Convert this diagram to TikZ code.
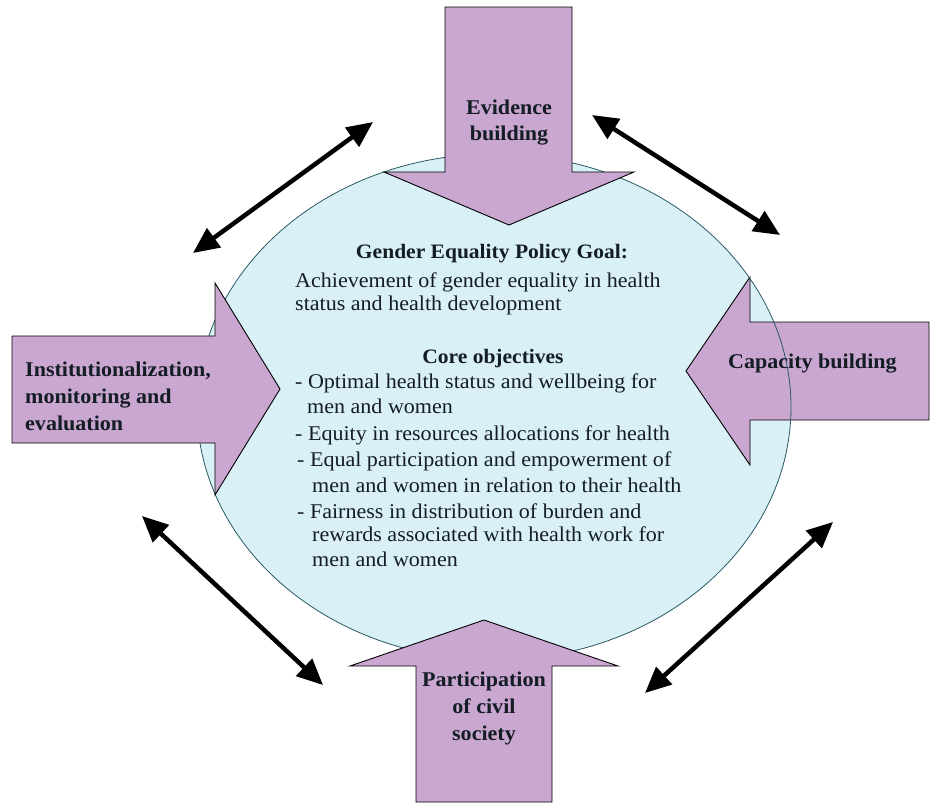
\documentclass[tikz,border=0pt]{standalone}
\usepackage{fontspec}
\setmainfont{Liberation Serif}
\newfontfamily\dfont[FakeStretch=1.05]{Liberation Serif}
\usetikzlibrary{arrows.meta}
\definecolor{purp}{RGB}{201,167,208}
\definecolor{lblue}{RGB}{218,240,247}
\definecolor{eline}{RGB}{40,90,100}
\definecolor{txt}{RGB}{20,28,36}
\begin{document}
\begin{tikzpicture}[x=1pt,y=-1pt,
  blockarrow/.style={fill=purp,draw=black,line width=0.9pt,line join=miter},
  bodytext/.style={inner sep=0pt,anchor=base west,text=txt,font=\dfont\fontsize{21}{24}\selectfont},
  headtext/.style={inner sep=0pt,anchor=base,text=txt,font=\dfont\bfseries\fontsize{20.5}{24}\selectfont},
  labeltext/.style={inner sep=0pt,text=txt,font=\dfont\bfseries\fontsize{21}{24}\selectfont},
  dblarrow/.style={line width=4.5pt,{Triangle[length=26pt,width=23pt]}-{Triangle[length=26pt,width=23pt]}}
]
\useasboundingbox (0,0) rectangle (932,804);
\fill[white] (0,0) rectangle (932,804);

% ellipse fill
\fill[lblue] (494,407) ellipse [x radius=297pt, y radius=253pt];
% right block arrow (under ellipse outline)
\draw[blockarrow] (929,322) -- (750,322) -- (750,277) -- (686,371) -- (750,465) -- (750,420) -- (929,420) -- cycle;
% ellipse outline
\draw[eline,line width=0.8pt] (494,407) ellipse [x radius=297pt, y radius=253pt];

% top block arrow
\draw[blockarrow] (445,7) -- (572,7) -- (572,172) -- (634,172) -- (509,225) -- (384,172) -- (445,172) -- cycle;
% left block arrow
\draw[blockarrow] (12,336) -- (215,336) -- (215,283) -- (280,389) -- (215,495) -- (215,443) -- (12,443) -- cycle;
% bottom block arrow
\draw[blockarrow] (416,802) -- (416,666) -- (350,666) -- (484,620) -- (618,666) -- (552,666) -- (552,802) -- cycle;

% arrow labels
\node[labeltext,anchor=base] (ev1) at (509,114) {Evidence};
\node[labeltext,anchor=base] (ev2) at (509,140) {building};
\node[labeltext,anchor=base west] (in1) at (25,376) {Institutionalization,};
\node[labeltext,anchor=base west] (in2) at (25,403) {monitoring and};
\node[labeltext,anchor=base west] (in3) at (25,430) {evaluation};
\node[labeltext,anchor=base west] (cap) at (728,368) {Capacity building};
\node[labeltext,anchor=base] (pa1) at (484,686) {Participation};
\node[labeltext,anchor=base] (pa2) at (484,713) {of civil};
\node[labeltext,anchor=base] (pa3) at (484,740) {society};

% ellipse text
\node[headtext] (h1) at (492,258) {Gender Equality Policy Goal:};
\node[bodytext] (l1) at (295,287) {Achievement of gender equality in health};
\node[bodytext] (l2) at (295,310) {status and health development};
\node[headtext] (h2) at (493,363) {Core objectives};
\node[bodytext] (o1) at (295,388) {- Optimal health status and wellbeing for};
\node[bodytext] (o2) at (307,413) {men and women};
\node[bodytext] (o3) at (295,440) {- Equity in resources allocations for health};
\node[bodytext] (o4) at (297,466) {- Equal participation and empowerment of};
\node[bodytext] (o5) at (312,492) {men and women in relation to their health};
\node[bodytext] (o6) at (297,518) {- Fairness in distribution of burden and};
\node[bodytext] (o7) at (312,541) {rewards associated with health work for};
\node[bodytext] (o8) at (312,566) {men and women};

% double arrows
\coordinate (a1s) at (193,253); \coordinate (a1e) at (373,122);
\coordinate (a2s) at (592,115); \coordinate (a2e) at (780,235);
\coordinate (a3s) at (142,516); \coordinate (a3e) at (323,685);
\coordinate (a4s) at (645,693); \coordinate (a4e) at (833,522);
\draw[dblarrow] (a1s) -- (a1e);
\draw[dblarrow] (a2s) -- (a2e);
\draw[dblarrow] (a3s) -- (a3e);
\draw[dblarrow] (a4s) -- (a4e);
\end{tikzpicture}
\end{document}
